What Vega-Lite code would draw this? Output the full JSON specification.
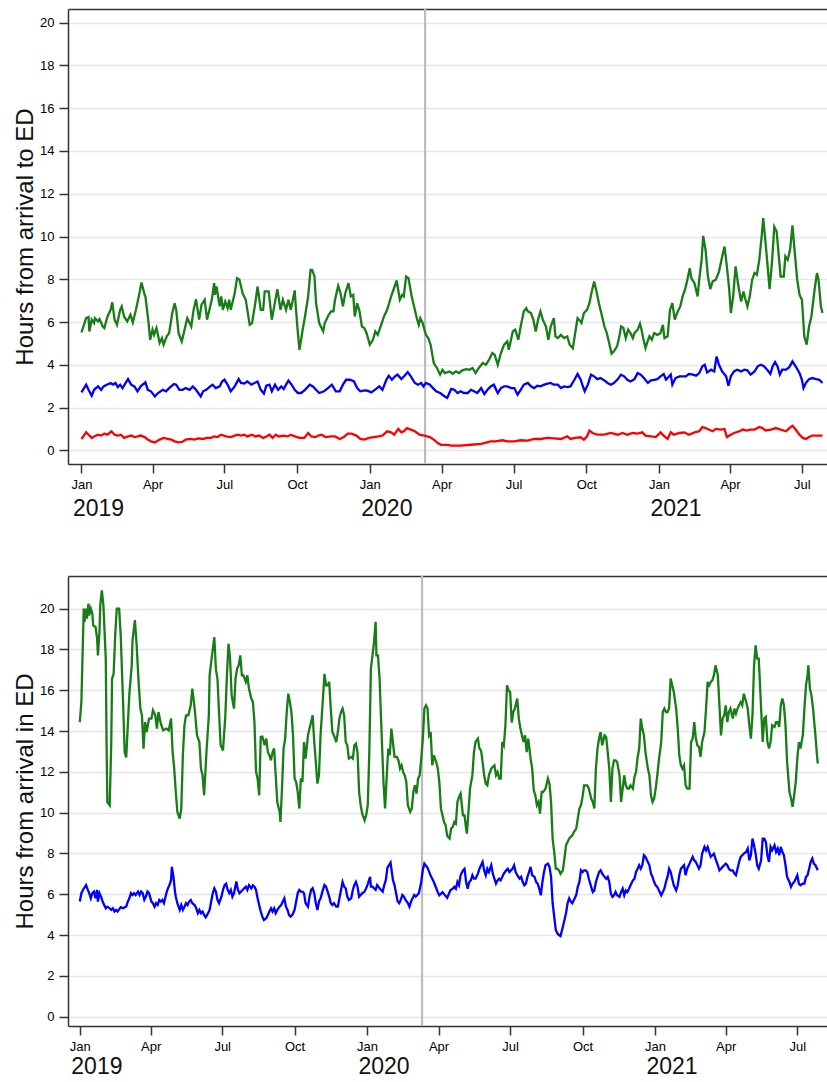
{
"$schema": "https://vega.github.io/schema/vega-lite/v6.json",
"background": "white",
"padding": {"left": 13, "top": 7, "right": 0, "bottom": 0},
"spacing": 54,
"config": {
  "view": {"stroke": null},
  "font": "Liberation Sans",
  "axis": {"labelFont": "Liberation Sans", "titleFont": "Liberation Sans", "labelColor": "#000000", "titleColor": "#111111", "domainColor": "#333333", "tickColor": "#333333", "domainWidth": 1.5, "tickWidth": 1.5, "labelFontSize": 13, "titleFontWeight": "normal"}
},
"datasets": {
"vline": [{"d": "2020-03-11"}],
"tg": [
{"d":"2019-01-01","v":5.51},{"d":"2019-01-07","v":6.18},{"d":"2019-01-10","v":6.23},{"d":"2019-01-11","v":5.56},{"d":"2019-01-14","v":6.11},{"d":"2019-01-17","v":5.95},{"d":"2019-01-18","v":6.18},{"d":"2019-01-22","v":6.03},{"d":"2019-01-24","v":6.14},{"d":"2019-01-28","v":5.79},{"d":"2019-01-30","v":5.72},{"d":"2019-02-03","v":6.26},{"d":"2019-02-07","v":6.57},{"d":"2019-02-09","v":6.92},{"d":"2019-02-12","v":6.11},{"d":"2019-02-15","v":5.87},{"d":"2019-02-19","v":6.57},{"d":"2019-02-21","v":6.73},{"d":"2019-02-24","v":6.26},{"d":"2019-02-28","v":6.03},{"d":"2019-03-04","v":6.34},{"d":"2019-03-07","v":5.98},{"d":"2019-03-11","v":6.57},{"d":"2019-03-15","v":7.27},{"d":"2019-03-18","v":7.85},{"d":"2019-03-22","v":7.27},{"d":"2019-03-23","v":7.2},{"d":"2019-03-27","v":5.95},{"d":"2019-03-29","v":5.17},{"d":"2019-04-01","v":5.64},{"d":"2019-04-03","v":5.4},{"d":"2019-04-06","v":5.72},{"d":"2019-04-10","v":5.02},{"d":"2019-04-13","v":5.25},{"d":"2019-04-15","v":4.94},{"d":"2019-04-19","v":5.33},{"d":"2019-04-22","v":5.48},{"d":"2019-04-26","v":6.42},{"d":"2019-04-29","v":6.88},{"d":"2019-05-01","v":6.57},{"d":"2019-05-04","v":5.48},{"d":"2019-05-08","v":5.09},{"d":"2019-05-11","v":5.56},{"d":"2019-05-15","v":6.18},{"d":"2019-05-18","v":5.95},{"d":"2019-05-20","v":5.79},{"d":"2019-05-23","v":6.57},{"d":"2019-05-26","v":7.07},{"d":"2019-05-30","v":6.11},{"d":"2019-06-02","v":6.81},{"d":"2019-06-06","v":7.04},{"d":"2019-06-09","v":6.11},{"d":"2019-06-12","v":6.57},{"d":"2019-06-15","v":7.04},{"d":"2019-06-18","v":7.82},{"d":"2019-06-19","v":7.27},{"d":"2019-06-21","v":7.66},{"d":"2019-06-25","v":6.73},{"d":"2019-06-27","v":7.2},{"d":"2019-06-29","v":6.57},{"d":"2019-07-02","v":6.96},{"d":"2019-07-05","v":6.65},{"d":"2019-07-07","v":7.04},{"d":"2019-07-09","v":6.57},{"d":"2019-07-14","v":7.35},{"d":"2019-07-17","v":8.05},{"d":"2019-07-20","v":7.98},{"d":"2019-07-24","v":7.35},{"d":"2019-07-28","v":7.04},{"d":"2019-08-02","v":5.87},{"d":"2019-08-05","v":5.95},{"d":"2019-08-09","v":6.88},{"d":"2019-08-12","v":7.66},{"d":"2019-08-16","v":6.57},{"d":"2019-08-19","v":6.57},{"d":"2019-08-21","v":7.43},{"d":"2019-08-26","v":7.43},{"d":"2019-08-30","v":6.11},{"d":"2019-09-02","v":6.73},{"d":"2019-09-06","v":7.54},{"d":"2019-09-10","v":6.57},{"d":"2019-09-13","v":7.04},{"d":"2019-09-17","v":6.57},{"d":"2019-09-20","v":7.04},{"d":"2019-09-23","v":6.57},{"d":"2019-09-28","v":7.48},{"d":"2019-09-29","v":6.88},{"d":"2019-10-02","v":5.48},{"d":"2019-10-04","v":4.7},{"d":"2019-10-08","v":5.64},{"d":"2019-10-11","v":6.26},{"d":"2019-10-15","v":7.2},{"d":"2019-10-18","v":8.44},{"d":"2019-10-20","v":8.44},{"d":"2019-10-23","v":8.13},{"d":"2019-10-25","v":6.88},{"d":"2019-10-29","v":5.95},{"d":"2019-11-03","v":5.56},{"d":"2019-11-05","v":5.95},{"d":"2019-11-10","v":6.34},{"d":"2019-11-13","v":6.5},{"d":"2019-11-16","v":6.5},{"d":"2019-11-18","v":7.04},{"d":"2019-11-22","v":7.69},{"d":"2019-11-25","v":7.35},{"d":"2019-11-28","v":6.73},{"d":"2019-12-01","v":7.35},{"d":"2019-12-05","v":7.82},{"d":"2019-12-08","v":7.2},{"d":"2019-12-11","v":7.27},{"d":"2019-12-13","v":6.26},{"d":"2019-12-16","v":6.88},{"d":"2019-12-19","v":6.5},{"d":"2019-12-22","v":5.79},{"d":"2019-12-25","v":5.72},{"d":"2019-12-28","v":5.48},{"d":"2020-01-01","v":4.94},{"d":"2020-01-05","v":5.17},{"d":"2020-01-08","v":5.56},{"d":"2020-01-11","v":5.4},{"d":"2020-01-14","v":5.72},{"d":"2020-01-19","v":6.26},{"d":"2020-01-23","v":6.57},{"d":"2020-01-28","v":7.2},{"d":"2020-01-31","v":7.51},{"d":"2020-02-04","v":7.94},{"d":"2020-02-08","v":7.04},{"d":"2020-02-11","v":7.27},{"d":"2020-02-13","v":7.2},{"d":"2020-02-16","v":8.13},{"d":"2020-02-19","v":8.05},{"d":"2020-02-23","v":7.2},{"d":"2020-03-01","v":6.11},{"d":"2020-03-03","v":5.87},{"d":"2020-03-05","v":6.18},{"d":"2020-03-08","v":5.95},{"d":"2020-03-12","v":5.4},{"d":"2020-03-15","v":5.25},{"d":"2020-03-18","v":4.94},{"d":"2020-03-22","v":4.08},{"d":"2020-03-26","v":3.85},{"d":"2020-03-30","v":3.54},{"d":"2020-04-02","v":3.77},{"d":"2020-04-05","v":3.61},
{"d":"2020-04-11","v":3.69},{"d":"2020-04-15","v":3.58},{"d":"2020-04-19","v":3.69},{"d":"2020-04-23","v":3.61},{"d":"2020-04-27","v":3.74},{"d":"2020-05-02","v":3.8},{"d":"2020-05-06","v":3.77},{"d":"2020-05-10","v":3.85},{"d":"2020-05-14","v":3.61},{"d":"2020-05-18","v":3.85},{"d":"2020-05-23","v":4.08},{"d":"2020-05-27","v":4.0},{"d":"2020-05-31","v":4.24},{"d":"2020-06-04","v":4.55},{"d":"2020-06-07","v":4.47},{"d":"2020-06-11","v":4.0},{"d":"2020-06-15","v":4.55},{"d":"2020-06-19","v":4.94},{"d":"2020-06-23","v":5.09},{"d":"2020-06-25","v":4.7},{"d":"2020-06-30","v":5.56},{"d":"2020-07-03","v":5.64},{"d":"2020-07-07","v":5.17},{"d":"2020-07-10","v":5.79},{"d":"2020-07-14","v":6.5},{"d":"2020-07-17","v":6.65},{"d":"2020-07-19","v":6.5},{"d":"2020-07-23","v":6.42},{"d":"2020-07-26","v":6.11},{"d":"2020-07-29","v":5.56},{"d":"2020-08-01","v":6.11},{"d":"2020-08-04","v":6.5},{"d":"2020-08-07","v":6.11},{"d":"2020-08-11","v":5.79},{"d":"2020-08-14","v":5.17},{"d":"2020-08-17","v":5.79},{"d":"2020-08-21","v":6.18},{"d":"2020-08-23","v":5.33},{"d":"2020-08-26","v":5.25},{"d":"2020-08-30","v":5.4},{"d":"2020-09-03","v":5.25},{"d":"2020-09-07","v":5.33},{"d":"2020-09-10","v":4.94},{"d":"2020-09-14","v":4.78},{"d":"2020-09-17","v":5.48},{"d":"2020-09-20","v":6.18},{"d":"2020-09-22","v":6.11},{"d":"2020-09-25","v":5.95},{"d":"2020-09-28","v":6.42},{"d":"2020-10-02","v":6.57},{"d":"2020-10-05","v":6.88},{"d":"2020-10-08","v":7.43},{"d":"2020-10-11","v":7.9},{"d":"2020-10-14","v":7.43},{"d":"2020-10-17","v":6.88},{"d":"2020-10-20","v":6.42},{"d":"2020-10-24","v":5.79},{"d":"2020-10-27","v":5.48},{"d":"2020-10-30","v":5.02},{"d":"2020-11-02","v":4.52},{"d":"2020-11-05","v":4.63},{"d":"2020-11-09","v":4.86},{"d":"2020-11-12","v":5.33},{"d":"2020-11-14","v":5.79},{"d":"2020-11-17","v":5.72},{"d":"2020-11-20","v":5.25},{"d":"2020-11-23","v":5.64},{"d":"2020-11-26","v":5.48},{"d":"2020-11-29","v":5.25},{"d":"2020-12-01","v":5.48},{"d":"2020-12-05","v":5.64},{"d":"2020-12-08","v":5.92},{"d":"2020-12-10","v":5.64},{"d":"2020-12-12","v":5.25},{"d":"2020-12-15","v":4.78},{"d":"2020-12-17","v":5.02},{"d":"2020-12-20","v":5.33},{"d":"2020-12-23","v":5.17},{"d":"2020-12-26","v":5.48},{"d":"2020-12-30","v":5.4},{"d":"2021-01-03","v":5.48},{"d":"2021-01-06","v":5.87},{"d":"2021-01-08","v":5.25},{"d":"2021-01-12","v":5.33},{"d":"2021-01-15","v":6.57},{"d":"2021-01-18","v":6.88},{"d":"2021-01-21","v":6.11},{"d":"2021-01-24","v":6.42},{"d":"2021-01-28","v":6.73},{"d":"2021-01-31","v":7.2},{"d":"2021-02-03","v":7.51},{"d":"2021-02-06","v":7.98},{"d":"2021-02-09","v":8.52},{"d":"2021-02-11","v":8.05},{"d":"2021-02-15","v":7.82},{"d":"2021-02-19","v":7.2},{"d":"2021-02-21","v":7.98},{"d":"2021-02-24","v":8.91},{"d":"2021-02-26","v":10.03},{"d":"2021-03-01","v":9.38},{"d":"2021-03-04","v":8.13},{"d":"2021-03-07","v":7.54},{"d":"2021-03-10","v":7.9},{"d":"2021-03-14","v":7.98},{"d":"2021-03-18","v":8.36},{"d":"2021-03-23","v":9.22},{"d":"2021-03-25","v":9.53},{"d":"2021-03-28","v":8.6},{"d":"2021-03-31","v":7.51},{"d":"2021-04-02","v":6.42},{"d":"2021-04-05","v":7.2},{"d":"2021-04-08","v":8.6},{"d":"2021-04-11","v":7.82},{"d":"2021-04-15","v":6.96},{"d":"2021-04-18","v":7.43},{"d":"2021-04-20","v":7.12},{"d":"2021-04-23","v":6.73},{"d":"2021-04-26","v":7.2},{"d":"2021-04-29","v":7.98},{"d":"2021-05-02","v":8.29},{"d":"2021-05-05","v":8.21},{"d":"2021-05-08","v":8.91},{"d":"2021-05-11","v":10.0},{"d":"2021-05-13","v":10.86},{"d":"2021-05-16","v":9.69},{"d":"2021-05-19","v":8.44},{"d":"2021-05-21","v":7.54},{"d":"2021-05-24","v":8.75},{"d":"2021-05-27","v":10.45},{"d":"2021-05-30","v":10.23},{"d":"2021-06-01","v":9.38},{"d":"2021-06-04","v":8.13},{"d":"2021-06-08","v":8.13},{"d":"2021-06-10","v":9.07},{"d":"2021-06-13","v":8.91},{"d":"2021-06-16","v":9.38},{"d":"2021-06-19","v":10.52},{"d":"2021-06-22","v":9.22},{"d":"2021-06-25","v":7.98},{"d":"2021-06-28","v":7.27},{"d":"2021-07-01","v":7.04},{"d":"2021-07-04","v":5.33},{"d":"2021-07-07","v":4.94},{"d":"2021-07-10","v":5.79},{"d":"2021-07-13","v":6.26},{"d":"2021-07-17","v":7.51},{"d":"2021-07-20","v":8.29},{"d":"2021-07-22","v":7.98},{"d":"2021-07-25","v":6.73},{"d":"2021-07-27","v":6.42}
],
"tb": [
{"d":"2019-01-01","v":2.71},{"d":"2019-01-07","v":3.07},{"d":"2019-01-10","v":2.83},{"d":"2019-01-14","v":2.55},{"d":"2019-01-17","v":2.83},{"d":"2019-01-22","v":2.99},{"d":"2019-01-26","v":2.83},{"d":"2019-01-29","v":2.99},{"d":"2019-02-02","v":3.07},{"d":"2019-02-07","v":3.15},{"d":"2019-02-10","v":3.07},{"d":"2019-02-13","v":3.15},{"d":"2019-02-16","v":2.96},{"d":"2019-02-19","v":3.07},{"d":"2019-02-22","v":2.91},{"d":"2019-02-26","v":3.15},{"d":"2019-03-01","v":3.33},{"d":"2019-03-05","v":3.07},{"d":"2019-03-09","v":2.99},{"d":"2019-03-13","v":2.76},{"d":"2019-03-17","v":2.99},{"d":"2019-03-23","v":3.18},{"d":"2019-03-26","v":2.83},{"d":"2019-03-30","v":2.76},{"d":"2019-04-04","v":2.52},{"d":"2019-04-08","v":2.68},{"d":"2019-04-14","v":2.83},{"d":"2019-04-18","v":2.76},{"d":"2019-04-22","v":2.91},{"d":"2019-04-28","v":3.1},{"d":"2019-05-01","v":3.07},{"d":"2019-05-05","v":2.83},{"d":"2019-05-09","v":2.83},{"d":"2019-05-13","v":2.91},{"d":"2019-05-18","v":2.83},{"d":"2019-05-22","v":2.99},{"d":"2019-05-26","v":2.83},{"d":"2019-06-01","v":2.52},{"d":"2019-06-04","v":2.76},{"d":"2019-06-08","v":2.83},{"d":"2019-06-13","v":2.99},{"d":"2019-06-16","v":3.07},{"d":"2019-06-20","v":2.91},{"d":"2019-06-25","v":2.99},{"d":"2019-06-28","v":3.22},{"d":"2019-07-01","v":3.3},{"d":"2019-07-05","v":3.07},{"d":"2019-07-09","v":2.76},{"d":"2019-07-14","v":2.99},{"d":"2019-07-19","v":3.33},{"d":"2019-07-22","v":3.15},{"d":"2019-07-26","v":3.12},{"d":"2019-07-30","v":3.22},{"d":"2019-08-04","v":3.07},{"d":"2019-08-08","v":3.15},{"d":"2019-08-12","v":3.22},{"d":"2019-08-16","v":2.83},{"d":"2019-08-20","v":2.65},{"d":"2019-08-23","v":3.02},{"d":"2019-08-27","v":3.07},{"d":"2019-08-30","v":2.76},{"d":"2019-09-03","v":3.07},{"d":"2019-09-07","v":2.83},{"d":"2019-09-11","v":2.99},{"d":"2019-09-14","v":2.87},{"d":"2019-09-17","v":3.07},{"d":"2019-09-20","v":3.26},{"d":"2019-09-24","v":3.07},{"d":"2019-09-28","v":2.83},{"d":"2019-10-02","v":2.68},{"d":"2019-10-06","v":2.68},{"d":"2019-10-11","v":2.83},{"d":"2019-10-17","v":3.07},{"d":"2019-10-21","v":2.99},{"d":"2019-10-25","v":2.83},{"d":"2019-10-29","v":2.68},{"d":"2019-11-04","v":2.76},{"d":"2019-11-09","v":2.91},{"d":"2019-11-14","v":3.07},{"d":"2019-11-19","v":2.76},{"d":"2019-11-24","v":2.76},{"d":"2019-11-28","v":3.07},{"d":"2019-12-02","v":3.3},{"d":"2019-12-07","v":3.3},{"d":"2019-12-12","v":3.22},{"d":"2019-12-16","v":2.91},{"d":"2019-12-20","v":2.76},{"d":"2019-12-25","v":2.8},{"d":"2019-12-29","v":2.79},{"d":"2020-01-03","v":2.71},{"d":"2020-01-09","v":2.87},{"d":"2020-01-13","v":2.99},{"d":"2020-01-17","v":2.83},{"d":"2020-01-22","v":3.3},{"d":"2020-01-25","v":3.49},{"d":"2020-01-29","v":3.3},{"d":"2020-02-02","v":3.46},{"d":"2020-02-05","v":3.54},{"d":"2020-02-10","v":3.33},{"d":"2020-02-14","v":3.49},{"d":"2020-02-18","v":3.66},{"d":"2020-02-22","v":3.46},{"d":"2020-02-27","v":3.15},{"d":"2020-03-02","v":3.07},{"d":"2020-03-06","v":3.15},{"d":"2020-03-09","v":2.99},{"d":"2020-03-12","v":3.15},{"d":"2020-03-17","v":3.07},{"d":"2020-03-21","v":2.91},{"d":"2020-03-25","v":2.76},{"d":"2020-03-30","v":2.68},{"d":"2020-04-05","v":2.52},{"d":"2020-04-08","v":2.45},
{"d":"2020-04-13","v":2.87},{"d":"2020-04-17","v":2.83},{"d":"2020-04-21","v":2.68},{"d":"2020-04-25","v":2.76},{"d":"2020-04-29","v":2.68},{"d":"2020-05-04","v":2.68},{"d":"2020-05-08","v":2.83},{"d":"2020-05-12","v":2.76},{"d":"2020-05-16","v":2.68},{"d":"2020-05-21","v":2.91},{"d":"2020-05-25","v":2.63},{"d":"2020-05-29","v":2.83},{"d":"2020-06-02","v":2.99},{"d":"2020-06-06","v":3.07},{"d":"2020-06-11","v":2.68},{"d":"2020-06-15","v":2.91},{"d":"2020-06-19","v":2.99},{"d":"2020-06-23","v":2.99},{"d":"2020-06-28","v":2.91},{"d":"2020-07-02","v":2.91},{"d":"2020-07-06","v":2.6},{"d":"2020-07-10","v":2.83},{"d":"2020-07-14","v":3.07},{"d":"2020-07-19","v":3.15},{"d":"2020-07-23","v":2.99},{"d":"2020-07-27","v":2.91},{"d":"2020-07-31","v":3.02},{"d":"2020-08-04","v":2.99},{"d":"2020-08-09","v":3.07},{"d":"2020-08-13","v":3.12},{"d":"2020-08-17","v":3.15},{"d":"2020-08-21","v":3.07},{"d":"2020-08-26","v":3.07},{"d":"2020-08-30","v":2.91},{"d":"2020-09-03","v":2.99},{"d":"2020-09-07","v":2.96},{"d":"2020-09-11","v":2.99},{"d":"2020-09-16","v":3.3},{"d":"2020-09-20","v":3.57},{"d":"2020-09-24","v":3.3},{"d":"2020-09-26","v":3.07},{"d":"2020-09-29","v":2.76},{"d":"2020-10-03","v":3.07},{"d":"2020-10-07","v":3.54},{"d":"2020-10-11","v":3.46},{"d":"2020-10-15","v":3.33},{"d":"2020-10-19","v":3.38},{"d":"2020-10-24","v":3.27},{"d":"2020-10-28","v":3.15},{"d":"2020-11-01","v":3.07},{"d":"2020-11-05","v":3.15},{"d":"2020-11-10","v":3.33},{"d":"2020-11-14","v":3.54},{"d":"2020-11-18","v":3.46},{"d":"2020-11-22","v":3.3},{"d":"2020-11-26","v":3.22},{"d":"2020-12-01","v":3.33},{"d":"2020-12-05","v":3.61},{"d":"2020-12-09","v":3.54},{"d":"2020-12-13","v":3.38},{"d":"2020-12-18","v":3.15},{"d":"2020-12-22","v":3.27},{"d":"2020-12-26","v":3.3},{"d":"2020-12-30","v":3.33},{"d":"2021-01-03","v":3.46},{"d":"2021-01-07","v":3.57},{"d":"2021-01-10","v":3.3},{"d":"2021-01-14","v":3.46},{"d":"2021-01-16","v":3.54},{"d":"2021-01-18","v":3.07},{"d":"2021-01-22","v":3.38},{"d":"2021-01-27","v":3.46},{"d":"2021-01-31","v":3.46},{"d":"2021-02-04","v":3.46},{"d":"2021-02-08","v":3.57},{"d":"2021-02-13","v":3.54},{"d":"2021-02-17","v":3.49},{"d":"2021-02-21","v":3.61},{"d":"2021-02-25","v":3.93},{"d":"2021-02-28","v":4.0},{"d":"2021-03-03","v":3.64},{"d":"2021-03-08","v":3.77},{"d":"2021-03-12","v":3.69},{"d":"2021-03-15","v":4.39},{"d":"2021-03-18","v":4.0},{"d":"2021-03-22","v":3.69},{"d":"2021-03-27","v":3.46},{"d":"2021-03-30","v":3.02},{"d":"2021-04-02","v":3.46},{"d":"2021-04-06","v":3.69},{"d":"2021-04-10","v":3.77},{"d":"2021-04-15","v":3.69},{"d":"2021-04-19","v":3.77},{"d":"2021-04-23","v":3.74},{"d":"2021-04-27","v":3.54},{"d":"2021-05-02","v":3.69},{"d":"2021-05-06","v":3.93},{"d":"2021-05-10","v":4.0},{"d":"2021-05-14","v":3.93},{"d":"2021-05-18","v":3.77},{"d":"2021-05-22","v":3.58},{"d":"2021-05-25","v":3.93},{"d":"2021-05-28","v":4.13},{"d":"2021-05-31","v":3.93},{"d":"2021-06-03","v":3.54},{"d":"2021-06-06","v":3.77},{"d":"2021-06-11","v":3.77},{"d":"2021-06-15","v":3.89},{"d":"2021-06-19","v":4.16},{"d":"2021-06-23","v":3.93},{"d":"2021-06-28","v":3.61},{"d":"2021-07-01","v":3.3},{"d":"2021-07-03","v":2.91},{"d":"2021-07-06","v":3.15},{"d":"2021-07-10","v":3.33},{"d":"2021-07-14","v":3.38},{"d":"2021-07-19","v":3.33},{"d":"2021-07-23","v":3.3},{"d":"2021-07-27","v":3.15}
],
"tr": [
{"d":"2019-01-01","v":0.53},{"d":"2019-01-07","v":0.84},{"d":"2019-01-10","v":0.73},{"d":"2019-01-14","v":0.58},{"d":"2019-01-17","v":0.65},{"d":"2019-01-22","v":0.73},{"d":"2019-01-26","v":0.69},{"d":"2019-01-30","v":0.78},{"d":"2019-02-03","v":0.73},{"d":"2019-02-08","v":0.89},{"d":"2019-02-12","v":0.73},{"d":"2019-02-16","v":0.69},{"d":"2019-02-20","v":0.73},{"d":"2019-02-24","v":0.58},{"d":"2019-03-01","v":0.65},{"d":"2019-03-05","v":0.69},{"d":"2019-03-09","v":0.62},{"d":"2019-03-13","v":0.65},{"d":"2019-03-17","v":0.69},{"d":"2019-03-22","v":0.62},{"d":"2019-03-26","v":0.5},{"d":"2019-03-30","v":0.42},{"d":"2019-04-04","v":0.37},{"d":"2019-04-10","v":0.5},{"d":"2019-04-15","v":0.58},{"d":"2019-04-20","v":0.53},{"d":"2019-04-25","v":0.5},{"d":"2019-04-29","v":0.42},{"d":"2019-05-04","v":0.37},{"d":"2019-05-09","v":0.4},{"d":"2019-05-13","v":0.5},{"d":"2019-05-19","v":0.53},{"d":"2019-05-24","v":0.5},{"d":"2019-05-29","v":0.56},{"d":"2019-06-04","v":0.53},{"d":"2019-06-09","v":0.58},{"d":"2019-06-14","v":0.58},{"d":"2019-06-18","v":0.65},{"d":"2019-06-22","v":0.62},{"d":"2019-06-27","v":0.73},{"d":"2019-07-03","v":0.65},{"d":"2019-07-09","v":0.62},{"d":"2019-07-14","v":0.69},{"d":"2019-07-18","v":0.73},{"d":"2019-07-22","v":0.69},{"d":"2019-07-26","v":0.73},{"d":"2019-07-30","v":0.65},{"d":"2019-08-05","v":0.73},{"d":"2019-08-09","v":0.65},{"d":"2019-08-14","v":0.69},{"d":"2019-08-19","v":0.58},{"d":"2019-08-23","v":0.65},{"d":"2019-08-27","v":0.73},{"d":"2019-08-31","v":0.58},{"d":"2019-09-04","v":0.73},{"d":"2019-09-08","v":0.65},{"d":"2019-09-13","v":0.69},{"d":"2019-09-19","v":0.65},{"d":"2019-09-23","v":0.73},{"d":"2019-09-28","v":0.65},{"d":"2019-10-04","v":0.58},{"d":"2019-10-10","v":0.58},{"d":"2019-10-15","v":0.81},{"d":"2019-10-19","v":0.65},{"d":"2019-10-24","v":0.62},{"d":"2019-10-28","v":0.69},{"d":"2019-11-01","v":0.73},{"d":"2019-11-06","v":0.62},{"d":"2019-11-13","v":0.65},{"d":"2019-11-18","v":0.65},{"d":"2019-11-24","v":0.53},{"d":"2019-11-29","v":0.62},{"d":"2019-12-04","v":0.78},{"d":"2019-12-09","v":0.78},{"d":"2019-12-15","v":0.69},{"d":"2019-12-20","v":0.53},{"d":"2019-12-25","v":0.5},{"d":"2019-12-31","v":0.58},{"d":"2020-01-06","v":0.62},{"d":"2020-01-12","v":0.65},{"d":"2020-01-17","v":0.69},{"d":"2020-01-23","v":0.89},{"d":"2020-01-28","v":0.84},{"d":"2020-02-01","v":0.73},{"d":"2020-02-06","v":1.0},{"d":"2020-02-10","v":0.84},{"d":"2020-02-13","v":0.89},{"d":"2020-02-17","v":1.04},{"d":"2020-02-22","v":0.97},{"d":"2020-02-27","v":0.89},{"d":"2020-03-04","v":0.73},{"d":"2020-03-10","v":0.69},{"d":"2020-03-17","v":0.62},{"d":"2020-03-22","v":0.5},{"d":"2020-03-27","v":0.34},{"d":"2020-03-31","v":0.26},{"d":"2020-04-09","v":0.25},{"d":"2020-04-13","v":0.22},{"d":"2020-04-25","v":0.22},{"d":"2020-05-08","v":0.26},{"d":"2020-05-21","v":0.3},{"d":"2020-06-02","v":0.42},{"d":"2020-06-08","v":0.42},{"d":"2020-06-17","v":0.47},{"d":"2020-06-23","v":0.42},{"d":"2020-07-02","v":0.42},{"d":"2020-07-10","v":0.47},{"d":"2020-07-19","v":0.45},{"d":"2020-07-27","v":0.53},{"d":"2020-08-04","v":0.53},{"d":"2020-08-13","v":0.58},{"d":"2020-08-21","v":0.56},{"d":"2020-08-30","v":0.53},{"d":"2020-09-07","v":0.65},{"d":"2020-09-11","v":0.53},{"d":"2020-09-17","v":0.58},{"d":"2020-09-24","v":0.61},{"d":"2020-09-28","v":0.5},{"d":"2020-10-02","v":0.65},{"d":"2020-10-05","v":0.92},{"d":"2020-10-09","v":0.81},{"d":"2020-10-15","v":0.73},{"d":"2020-10-24","v":0.73},{"d":"2020-11-01","v":0.81},{"d":"2020-11-10","v":0.73},{"d":"2020-11-16","v":0.81},{"d":"2020-11-22","v":0.73},{"d":"2020-11-29","v":0.81},{"d":"2020-12-05","v":0.78},{"d":"2020-12-11","v":0.84},{"d":"2020-12-15","v":0.69},{"d":"2020-12-22","v":0.65},{"d":"2020-12-28","v":0.62},{"d":"2021-01-03","v":0.84},{"d":"2021-01-08","v":0.65},{"d":"2021-01-12","v":0.53},{"d":"2021-01-16","v":0.84},{"d":"2021-01-20","v":0.73},{"d":"2021-01-27","v":0.81},{"d":"2021-02-02","v":0.84},{"d":"2021-02-08","v":0.73},{"d":"2021-02-15","v":0.84},{"d":"2021-02-21","v":0.89},{"d":"2021-02-25","v":1.09},{"d":"2021-03-01","v":1.04},{"d":"2021-03-05","v":0.97},{"d":"2021-03-10","v":0.89},{"d":"2021-03-14","v":1.0},{"d":"2021-03-20","v":0.97},{"d":"2021-03-25","v":1.0},{"d":"2021-03-28","v":0.62},{"d":"2021-04-02","v":0.73},{"d":"2021-04-06","v":0.81},{"d":"2021-04-13","v":0.89},{"d":"2021-04-17","v":0.97},{"d":"2021-04-22","v":0.92},{"d":"2021-04-27","v":0.97},{"d":"2021-05-02","v":0.97},{"d":"2021-05-08","v":1.09},{"d":"2021-05-12","v":1.04},{"d":"2021-05-16","v":0.93},{"d":"2021-05-23","v":0.97},{"d":"2021-05-29","v":1.04},{"d":"2021-06-04","v":0.97},{"d":"2021-06-11","v":0.89},{"d":"2021-06-15","v":1.04},{"d":"2021-06-19","v":1.15},{"d":"2021-06-23","v":0.97},{"d":"2021-06-28","v":0.73},{"d":"2021-07-02","v":0.58},{"d":"2021-07-06","v":0.53},{"d":"2021-07-10","v":0.62},{"d":"2021-07-14","v":0.69},{"d":"2021-07-19","v":0.69},{"d":"2021-07-27","v":0.69}
],
"bg": [
{"d":"2019-01-01","v":14.44},{"d":"2019-01-03","v":15.42},{"d":"2019-01-06","v":20.0},{"d":"2019-01-07","v":19.35},{"d":"2019-01-09","v":20.0},{"d":"2019-01-10","v":19.51},{"d":"2019-01-12","v":20.25},{"d":"2019-01-13","v":19.67},{"d":"2019-01-15","v":20.0},{"d":"2019-01-17","v":19.75},{"d":"2019-01-18","v":19.18},{"d":"2019-01-21","v":19.1},{"d":"2019-01-23","v":18.53},{"d":"2019-01-24","v":17.71},{"d":"2019-01-26","v":18.86},{"d":"2019-01-27","v":20.16},{"d":"2019-01-29","v":20.9},{"d":"2019-01-31","v":20.16},{"d":"2019-02-03","v":17.55},{"d":"2019-02-04","v":13.46},{"d":"2019-02-05","v":10.52},{"d":"2019-02-08","v":10.36},{"d":"2019-02-10","v":13.46},{"d":"2019-02-11","v":16.57},{"d":"2019-02-13","v":16.8},{"d":"2019-02-15","v":18.7},{"d":"2019-02-17","v":20.0},{"d":"2019-02-20","v":20.0},{"d":"2019-02-22","v":18.7},{"d":"2019-02-25","v":15.42},{"d":"2019-02-27","v":12.97},{"d":"2019-03-01","v":12.71},{"d":"2019-03-03","v":14.25},{"d":"2019-03-05","v":15.83},{"d":"2019-03-08","v":17.22},{"d":"2019-03-09","v":18.44},{"d":"2019-03-12","v":19.44},{"d":"2019-03-14","v":18.37},{"d":"2019-03-17","v":16.24},{"d":"2019-03-19","v":15.1},{"d":"2019-03-21","v":14.77},{"d":"2019-03-23","v":13.13},{"d":"2019-03-25","v":14.44},{"d":"2019-03-27","v":13.95},{"d":"2019-03-30","v":14.61},{"d":"2019-04-02","v":14.61},{"d":"2019-04-04","v":15.02},{"d":"2019-04-07","v":14.77},{"d":"2019-04-09","v":14.12},{"d":"2019-04-11","v":14.93},{"d":"2019-04-14","v":14.36},{"d":"2019-04-17","v":14.03},{"d":"2019-04-21","v":14.12},{"d":"2019-04-24","v":14.03},{"d":"2019-04-27","v":14.61},{"d":"2019-04-29","v":12.97},{"d":"2019-05-01","v":12.16},{"d":"2019-05-03","v":11.01},{"d":"2019-05-05","v":10.03},{"d":"2019-05-08","v":9.71},{"d":"2019-05-10","v":10.2},{"d":"2019-05-12","v":12.81},{"d":"2019-05-14","v":14.28},{"d":"2019-05-16","v":14.77},{"d":"2019-05-19","v":14.77},{"d":"2019-05-22","v":15.26},{"d":"2019-05-24","v":16.08},{"d":"2019-05-27","v":15.1},{"d":"2019-05-30","v":13.79},{"d":"2019-06-02","v":13.46},{"d":"2019-06-04","v":12.16},{"d":"2019-06-06","v":11.83},{"d":"2019-06-08","v":10.85},{"d":"2019-06-11","v":12.97},{"d":"2019-06-14","v":14.77},{"d":"2019-06-15","v":16.73},{"d":"2019-06-18","v":17.71},{"d":"2019-06-21","v":18.6},{"d":"2019-06-23","v":17.03},{"d":"2019-06-25","v":16.54},{"d":"2019-06-27","v":14.9},{"d":"2019-06-29","v":13.3},{"d":"2019-07-02","v":13.05},{"d":"2019-07-05","v":14.77},{"d":"2019-07-07","v":16.73},{"d":"2019-07-09","v":18.28},{"d":"2019-07-11","v":17.55},{"d":"2019-07-13","v":15.75},{"d":"2019-07-16","v":15.1},{"d":"2019-07-18","v":16.6},{"d":"2019-07-20","v":17.06},{"d":"2019-07-22","v":17.22},{"d":"2019-07-24","v":17.71},{"d":"2019-07-26","v":16.73},{"d":"2019-07-28","v":16.73},{"d":"2019-07-31","v":16.41},{"d":"2019-08-02","v":16.73},{"d":"2019-08-04","v":16.08},{"d":"2019-08-07","v":15.59},{"d":"2019-08-09","v":15.42},{"d":"2019-08-11","v":14.44},{"d":"2019-08-13","v":12.0},{"d":"2019-08-15","v":11.67},{"d":"2019-08-17","v":10.85},{"d":"2019-08-19","v":13.71},{"d":"2019-08-21","v":13.73},{"d":"2019-08-24","v":13.3},{"d":"2019-08-26","v":13.63},{"d":"2019-08-28","v":12.97},{"d":"2019-08-30","v":12.81},{"d":"2019-09-01","v":12.56},{"d":"2019-09-03","v":12.97},{"d":"2019-09-05","v":13.14},{"d":"2019-09-07","v":11.83},{"d":"2019-09-09","v":10.52},{"d":"2019-09-12","v":10.03},{"d":"2019-09-13","v":9.54},{"d":"2019-09-15","v":11.18},{"d":"2019-09-17","v":13.14},{"d":"2019-09-19","v":13.63},{"d":"2019-09-21","v":14.93},{"d":"2019-09-23","v":15.83},{"d":"2019-09-25","v":15.42},{"d":"2019-09-27","v":14.93},{"d":"2019-09-29","v":13.79},{"d":"2019-10-01","v":11.67},{"d":"2019-10-03","v":11.5},{"d":"2019-10-05","v":11.01},{"d":"2019-10-07","v":10.2},{"d":"2019-10-09","v":11.67},{"d":"2019-10-11","v":11.5},{"d":"2019-10-13","v":13.46},{"d":"2019-10-15","v":12.65},{"d":"2019-10-18","v":13.79},{"d":"2019-10-20","v":14.12},{"d":"2019-10-22","v":14.44},{"d":"2019-10-24","v":14.77},{"d":"2019-10-26","v":13.46},{"d":"2019-10-28","v":12.48},{"d":"2019-10-30","v":11.42},{"d":"2019-11-01","v":11.83},{"d":"2019-11-03","v":13.79},{"d":"2019-11-06","v":15.59},{"d":"2019-11-08","v":16.8},{"d":"2019-11-10","v":16.24},{"d":"2019-11-12","v":16.24},{"d":"2019-11-14","v":16.41},{"d":"2019-11-16","v":15.1},{"d":"2019-11-18","v":13.95},{"d":"2019-11-20","v":13.79},{"d":"2019-11-23","v":13.46},{"d":"2019-11-25","v":13.95},{"d":"2019-11-27","v":14.61},{"d":"2019-11-29","v":14.93},{"d":"2019-12-01","v":15.1},{"d":"2019-12-03","v":14.77},{"d":"2019-12-05","v":13.46},{"d":"2019-12-07","v":13.3},{"d":"2019-12-09","v":12.65},{"d":"2019-12-12","v":12.73},{"d":"2019-12-14","v":12.65},{"d":"2019-12-16","v":13.3},{"d":"2019-12-18","v":13.38},{"d":"2019-12-20","v":12.97},{"d":"2019-12-22","v":11.01},{"d":"2019-12-24","v":10.36},{"d":"2019-12-26","v":9.95},{"d":"2019-12-29","v":9.62},{"d":"2019-12-31","v":9.87},{"d":"2020-01-02","v":10.36},{"d":"2020-01-04","v":12.97},{"d":"2020-01-06","v":17.06},{"d":"2020-01-08","v":17.71},{"d":"2020-01-10","v":18.37},{"d":"2020-01-12","v":19.35},{"d":"2020-01-13","v":17.71},{"d":"2020-01-15","v":17.71},{"d":"2020-01-17","v":16.6},{"d":"2020-01-20","v":13.46},{"d":"2020-01-22","v":11.5},{"d":"2020-01-24","v":10.2},{"d":"2020-01-26","v":11.67},{"d":"2020-01-28","v":13.14},{"d":"2020-01-30","v":12.81},{"d":"2020-02-01","v":14.12},{"d":"2020-02-03","v":13.46},{"d":"2020-02-05","v":12.73},{"d":"2020-02-08","v":12.73},{"d":"2020-02-10","v":12.56},{"d":"2020-02-12","v":12.16},{"d":"2020-02-14","v":12.32},{"d":"2020-02-16","v":11.99},{"d":"2020-02-18","v":11.83},{"d":"2020-02-20","v":11.5},{"d":"2020-02-22","v":10.36},{"d":"2020-02-25","v":10.03},{"d":"2020-02-27","v":10.2},{"d":"2020-02-29","v":11.01},{"d":"2020-03-02","v":11.34},{"d":"2020-03-04","v":10.93},{"d":"2020-03-06","v":11.67},{"d":"2020-03-08","v":11.83},{"d":"2020-03-10","v":12.65},{"d":"2020-03-12","v":13.63},{"d":"2020-03-14","v":15.1},{"d":"2020-03-16","v":15.26},{"d":"2020-03-18","v":15.1},{"d":"2020-03-20","v":13.79},{"d":"2020-03-22","v":13.95},{"d":"2020-03-24","v":12.32},{"d":"2020-03-26","v":12.81},{"d":"2020-03-29","v":12.48},{"d":"2020-03-31","v":12.16},{"d":"2020-04-02","v":11.5},{"d":"2020-04-04","v":10.2},{"d":"2020-04-06","v":9.87},{"d":"2020-04-08","v":9.54},
{"d":"2020-04-10","v":9.38},{"d":"2020-04-12","v":8.86},{"d":"2020-04-15","v":8.73},{"d":"2020-04-17","v":9.22},{"d":"2020-04-19","v":9.3},{"d":"2020-04-21","v":9.54},{"d":"2020-04-23","v":9.46},{"d":"2020-04-25","v":10.52},{"d":"2020-04-27","v":10.77},{"d":"2020-04-29","v":10.93},{"d":"2020-05-02","v":9.87},{"d":"2020-05-04","v":9.87},{"d":"2020-05-06","v":9.22},{"d":"2020-05-07","v":8.97},{"d":"2020-05-09","v":10.03},{"d":"2020-05-11","v":11.18},{"d":"2020-05-14","v":11.83},{"d":"2020-05-16","v":12.97},{"d":"2020-05-18","v":13.46},{"d":"2020-05-21","v":13.63},{"d":"2020-05-23","v":13.14},{"d":"2020-05-25","v":13.05},{"d":"2020-05-27","v":12.48},{"d":"2020-05-29","v":11.83},{"d":"2020-05-31","v":11.42},{"d":"2020-06-02","v":11.34},{"d":"2020-06-04","v":11.83},{"d":"2020-06-07","v":12.16},{"d":"2020-06-09","v":12.25},{"d":"2020-06-11","v":12.32},{"d":"2020-06-13","v":11.83},{"d":"2020-06-15","v":11.99},{"d":"2020-06-17","v":11.67},{"d":"2020-06-19","v":11.67},{"d":"2020-06-21","v":13.46},{"d":"2020-06-23","v":13.3},{"d":"2020-06-25","v":14.28},{"d":"2020-06-27","v":16.24},{"d":"2020-06-29","v":16.0},{"d":"2020-07-01","v":15.9},{"d":"2020-07-03","v":14.41},{"d":"2020-07-05","v":14.93},{"d":"2020-07-07","v":15.1},{"d":"2020-07-10","v":15.59},{"d":"2020-07-12","v":14.61},{"d":"2020-07-14","v":14.12},{"d":"2020-07-16","v":13.79},{"d":"2020-07-18","v":13.46},{"d":"2020-07-20","v":13.79},{"d":"2020-07-22","v":12.97},{"d":"2020-07-24","v":13.63},{"d":"2020-07-27","v":12.65},{"d":"2020-07-29","v":12.16},{"d":"2020-07-31","v":11.09},{"d":"2020-08-02","v":10.85},{"d":"2020-08-04","v":10.36},{"d":"2020-08-06","v":10.52},{"d":"2020-08-08","v":9.95},{"d":"2020-08-10","v":11.01},{"d":"2020-08-12","v":11.01},{"d":"2020-08-15","v":11.18},{"d":"2020-08-17","v":11.5},{"d":"2020-08-18","v":11.67},{"d":"2020-08-20","v":11.42},{"d":"2020-08-22","v":10.52},{"d":"2020-08-24","v":8.73},{"d":"2020-08-26","v":8.07},{"d":"2020-08-28","v":7.25},{"d":"2020-08-30","v":7.25},{"d":"2020-09-01","v":7.17},{"d":"2020-09-03","v":7.0},{"d":"2020-09-06","v":7.17},{"d":"2020-09-08","v":7.75},{"d":"2020-09-10","v":8.4},{"d":"2020-09-12","v":8.56},{"d":"2020-09-14","v":8.73},{"d":"2020-09-16","v":8.81},{"d":"2020-09-18","v":8.89},{"d":"2020-09-20","v":9.05},{"d":"2020-09-23","v":9.22},{"d":"2020-09-25","v":9.71},{"d":"2020-09-27","v":10.2},{"d":"2020-09-29","v":10.36},{"d":"2020-10-01","v":10.77},{"d":"2020-10-03","v":11.34},{"d":"2020-10-05","v":11.34},{"d":"2020-10-07","v":11.34},{"d":"2020-10-09","v":11.18},{"d":"2020-10-12","v":10.69},{"d":"2020-10-14","v":10.52},{"d":"2020-10-16","v":10.2},{"d":"2020-10-18","v":12.16},{"d":"2020-10-20","v":13.14},{"d":"2020-10-22","v":13.63},{"d":"2020-10-24","v":13.95},{"d":"2020-10-26","v":13.3},{"d":"2020-10-29","v":13.79},{"d":"2020-10-31","v":13.71},{"d":"2020-11-02","v":12.97},{"d":"2020-11-04","v":12.16},{"d":"2020-11-06","v":10.52},{"d":"2020-11-08","v":12.16},{"d":"2020-11-10","v":12.56},{"d":"2020-11-12","v":12.56},{"d":"2020-11-14","v":12.48},{"d":"2020-11-17","v":11.83},{"d":"2020-11-19","v":10.52},{"d":"2020-11-21","v":11.18},{"d":"2020-11-23","v":11.83},{"d":"2020-11-25","v":11.34},{"d":"2020-11-27","v":11.18},{"d":"2020-11-29","v":11.18},{"d":"2020-12-01","v":11.34},{"d":"2020-12-04","v":11.18},{"d":"2020-12-06","v":11.75},{"d":"2020-12-08","v":11.99},{"d":"2020-12-10","v":12.71},{"d":"2020-12-12","v":13.14},{"d":"2020-12-14","v":14.61},{"d":"2020-12-16","v":14.12},{"d":"2020-12-18","v":13.79},{"d":"2020-12-20","v":12.97},{"d":"2020-12-23","v":12.16},{"d":"2020-12-25","v":11.83},{"d":"2020-12-27","v":10.85},{"d":"2020-12-29","v":10.52},{"d":"2020-12-31","v":10.69},{"d":"2021-01-02","v":11.18},{"d":"2021-01-04","v":11.83},{"d":"2021-01-06","v":12.56},{"d":"2021-01-09","v":13.46},{"d":"2021-01-11","v":14.93},{"d":"2021-01-13","v":15.1},{"d":"2021-01-15","v":14.93},{"d":"2021-01-17","v":14.93},{"d":"2021-01-19","v":15.1},{"d":"2021-01-21","v":16.57},{"d":"2021-01-23","v":16.24},{"d":"2021-01-25","v":15.92},{"d":"2021-01-28","v":15.1},{"d":"2021-01-30","v":14.12},{"d":"2021-02-01","v":12.81},{"d":"2021-02-03","v":12.32},{"d":"2021-02-05","v":12.16},{"d":"2021-02-07","v":12.32},{"d":"2021-02-09","v":11.34},{"d":"2021-02-11","v":11.18},{"d":"2021-02-14","v":11.18},{"d":"2021-02-16","v":13.46},{"d":"2021-02-18","v":13.63},{"d":"2021-02-20","v":14.44},{"d":"2021-02-22","v":13.63},{"d":"2021-02-24","v":13.3},{"d":"2021-02-26","v":13.22},{"d":"2021-02-28","v":12.73},{"d":"2021-03-02","v":13.46},{"d":"2021-03-05","v":13.95},{"d":"2021-03-07","v":15.1},{"d":"2021-03-09","v":16.41},{"d":"2021-03-11","v":16.24},{"d":"2021-03-13","v":16.41},{"d":"2021-03-15","v":16.49},{"d":"2021-03-17","v":16.73},{"d":"2021-03-19","v":17.22},{"d":"2021-03-22","v":16.73},{"d":"2021-03-24","v":15.26},{"d":"2021-03-26","v":13.79},{"d":"2021-03-28","v":14.61},{"d":"2021-03-30","v":14.77},{"d":"2021-04-01","v":15.26},{"d":"2021-04-03","v":14.44},{"d":"2021-04-05","v":14.93},{"d":"2021-04-07","v":15.1},{"d":"2021-04-10","v":14.61},{"d":"2021-04-12","v":15.1},{"d":"2021-04-14","v":14.85},{"d":"2021-04-16","v":15.1},{"d":"2021-04-18","v":15.26},{"d":"2021-04-20","v":15.42},{"d":"2021-04-22","v":15.26},{"d":"2021-04-24","v":15.83},{"d":"2021-04-27","v":15.42},{"d":"2021-04-29","v":15.1},{"d":"2021-05-01","v":14.28},{"d":"2021-05-03","v":13.63},{"d":"2021-05-05","v":14.77},{"d":"2021-05-07","v":17.22},{"d":"2021-05-09","v":18.2},{"d":"2021-05-11","v":17.55},{"d":"2021-05-13","v":17.55},{"d":"2021-05-16","v":15.1},{"d":"2021-05-18","v":13.46},{"d":"2021-05-20","v":14.61},{"d":"2021-05-22","v":14.69},{"d":"2021-05-24","v":13.46},{"d":"2021-05-26","v":13.14},{"d":"2021-05-28","v":13.46},{"d":"2021-05-30","v":14.28},{"d":"2021-06-02","v":14.2},{"d":"2021-06-04","v":14.44},{"d":"2021-06-06","v":14.44},{"d":"2021-06-08","v":14.2},{"d":"2021-06-10","v":15.26},{"d":"2021-06-12","v":15.59},{"d":"2021-06-14","v":15.26},{"d":"2021-06-16","v":14.28},{"d":"2021-06-18","v":12.48},{"d":"2021-06-21","v":11.01},{"d":"2021-06-23","v":10.69},{"d":"2021-06-25","v":10.28},{"d":"2021-06-27","v":10.85},{"d":"2021-06-29","v":11.5},{"d":"2021-07-01","v":12.65},{"d":"2021-07-03","v":13.46},{"d":"2021-07-05","v":13.14},{"d":"2021-07-08","v":13.79},{"d":"2021-07-10","v":15.1},{"d":"2021-07-12","v":16.24},{"d":"2021-07-14","v":16.73},{"d":"2021-07-15","v":17.22},{"d":"2021-07-17","v":16.08},{"d":"2021-07-19","v":15.75},{"d":"2021-07-21","v":15.1},{"d":"2021-07-24","v":13.79},{"d":"2021-07-26","v":12.81},{"d":"2021-07-27","v":12.4}
],
"bb": [
{"d":"2019-01-01","v":5.64},{"d":"2019-01-03","v":6.05},{"d":"2019-01-05","v":6.21},{"d":"2019-01-09","v":6.45},{"d":"2019-01-11","v":6.24},{"d":"2019-01-13","v":6.05},{"d":"2019-01-15","v":5.8},{"d":"2019-01-17","v":6.05},{"d":"2019-01-19","v":6.13},{"d":"2019-01-21","v":5.8},{"d":"2019-01-23","v":6.21},{"d":"2019-01-24","v":5.64},{"d":"2019-01-26","v":6.05},{"d":"2019-01-28","v":5.88},{"d":"2019-01-30","v":5.64},{"d":"2019-02-01","v":5.47},{"d":"2019-02-03","v":5.31},{"d":"2019-02-05","v":5.39},{"d":"2019-02-08","v":5.31},{"d":"2019-02-10","v":5.23},{"d":"2019-02-12","v":5.31},{"d":"2019-02-14","v":5.15},{"d":"2019-02-16","v":5.23},{"d":"2019-02-18","v":5.15},{"d":"2019-02-20","v":5.26},{"d":"2019-02-22","v":5.36},{"d":"2019-02-25","v":5.31},{"d":"2019-02-27","v":5.36},{"d":"2019-03-01","v":5.39},{"d":"2019-03-03","v":5.64},{"d":"2019-03-05","v":5.8},{"d":"2019-03-07","v":6.05},{"d":"2019-03-09","v":5.96},{"d":"2019-03-11","v":6.05},{"d":"2019-03-13","v":5.96},{"d":"2019-03-16","v":6.13},{"d":"2019-03-18","v":5.96},{"d":"2019-03-20","v":6.13},{"d":"2019-03-22","v":6.05},{"d":"2019-03-24","v":5.72},{"d":"2019-03-26","v":5.88},{"d":"2019-03-28","v":6.13},{"d":"2019-03-30","v":6.05},{"d":"2019-04-02","v":5.64},{"d":"2019-04-04","v":5.56},{"d":"2019-04-06","v":5.39},{"d":"2019-04-08","v":5.56},{"d":"2019-04-10","v":5.47},{"d":"2019-04-12","v":5.72},{"d":"2019-04-14","v":5.64},{"d":"2019-04-16","v":5.72},{"d":"2019-04-18","v":5.56},{"d":"2019-04-21","v":6.05},{"d":"2019-04-23","v":6.29},{"d":"2019-04-25","v":6.45},{"d":"2019-04-27","v":6.7},{"d":"2019-04-28","v":7.34},{"d":"2019-04-30","v":6.86},{"d":"2019-05-02","v":6.13},{"d":"2019-05-03","v":5.88},{"d":"2019-05-05","v":5.56},{"d":"2019-05-08","v":5.23},{"d":"2019-05-10","v":5.47},{"d":"2019-05-12","v":5.23},{"d":"2019-05-14","v":5.39},{"d":"2019-05-16","v":5.56},{"d":"2019-05-18","v":5.47},{"d":"2019-05-20","v":5.64},{"d":"2019-05-22","v":5.72},{"d":"2019-05-24","v":5.56},{"d":"2019-05-27","v":5.47},{"d":"2019-05-29","v":5.31},{"d":"2019-05-31","v":5.07},{"d":"2019-06-02","v":5.23},{"d":"2019-06-04","v":5.07},{"d":"2019-06-06","v":5.15},{"d":"2019-06-08","v":4.98},{"d":"2019-06-10","v":4.87},{"d":"2019-06-13","v":5.07},{"d":"2019-06-15","v":5.23},{"d":"2019-06-17","v":5.64},{"d":"2019-06-19","v":6.05},{"d":"2019-06-21","v":6.29},{"d":"2019-06-23","v":6.13},{"d":"2019-06-25","v":5.72},{"d":"2019-06-27","v":5.56},{"d":"2019-06-30","v":5.88},{"d":"2019-07-02","v":6.21},{"d":"2019-07-04","v":6.45},{"d":"2019-07-06","v":6.52},{"d":"2019-07-08","v":6.21},{"d":"2019-07-10","v":6.05},{"d":"2019-07-12","v":6.21},{"d":"2019-07-14","v":5.88},{"d":"2019-07-16","v":6.05},{"d":"2019-07-19","v":6.62},{"d":"2019-07-21","v":6.21},{"d":"2019-07-23","v":6.05},{"d":"2019-07-25","v":6.13},{"d":"2019-07-27","v":6.21},{"d":"2019-07-29","v":6.29},{"d":"2019-07-31","v":6.37},{"d":"2019-08-02","v":6.21},{"d":"2019-08-04","v":6.44},{"d":"2019-08-07","v":6.29},{"d":"2019-08-09","v":6.44},{"d":"2019-08-11","v":6.37},{"d":"2019-08-13","v":6.21},{"d":"2019-08-15","v":5.8},{"d":"2019-08-17","v":5.47},{"d":"2019-08-19","v":5.15},{"d":"2019-08-21","v":4.9},{"d":"2019-08-23","v":4.74},{"d":"2019-08-26","v":4.82},{"d":"2019-08-28","v":4.98},{"d":"2019-08-30","v":5.15},{"d":"2019-09-01","v":5.31},{"d":"2019-09-03","v":5.15},{"d":"2019-09-05","v":5.31},{"d":"2019-09-07","v":5.07},{"d":"2019-09-09","v":5.23},{"d":"2019-09-12","v":5.39},{"d":"2019-09-14","v":5.47},{"d":"2019-09-16","v":5.64},{"d":"2019-09-18","v":5.8},{"d":"2019-09-20","v":5.39},{"d":"2019-09-22","v":5.23},{"d":"2019-09-24","v":4.98},{"d":"2019-09-26","v":4.9},{"d":"2019-09-28","v":4.98},{"d":"2019-10-01","v":5.23},{"d":"2019-10-03","v":5.64},{"d":"2019-10-05","v":6.05},{"d":"2019-10-07","v":6.21},{"d":"2019-10-09","v":6.13},{"d":"2019-10-11","v":6.13},{"d":"2019-10-13","v":6.05},{"d":"2019-10-15","v":5.56},{"d":"2019-10-18","v":5.39},{"d":"2019-10-20","v":5.88},{"d":"2019-10-22","v":6.21},{"d":"2019-10-24","v":6.29},{"d":"2019-10-26","v":6.05},{"d":"2019-10-28","v":5.56},{"d":"2019-10-30","v":5.23},{"d":"2019-11-01","v":5.64},{"d":"2019-11-03","v":5.8},{"d":"2019-11-06","v":6.21},{"d":"2019-11-08","v":6.45},{"d":"2019-11-10","v":6.37},{"d":"2019-11-12","v":6.13},{"d":"2019-11-14","v":5.88},{"d":"2019-11-16","v":5.56},{"d":"2019-11-18","v":5.47},{"d":"2019-11-20","v":5.56},{"d":"2019-11-23","v":5.39},{"d":"2019-11-25","v":5.39},{"d":"2019-11-27","v":5.8},{"d":"2019-11-29","v":6.21},{"d":"2019-12-01","v":6.6},{"d":"2019-12-03","v":6.37},{"d":"2019-12-05","v":6.29},{"d":"2019-12-07","v":5.88},{"d":"2019-12-09","v":5.72},{"d":"2019-12-12","v":5.8},{"d":"2019-12-14","v":6.21},{"d":"2019-12-16","v":6.45},{"d":"2019-12-18","v":6.6},{"d":"2019-12-20","v":6.37},{"d":"2019-12-22","v":5.88},{"d":"2019-12-24","v":5.96},{"d":"2019-12-26","v":6.05},{"d":"2019-12-29","v":6.13},{"d":"2019-12-31","v":6.29},{"d":"2020-01-02","v":6.5},{"d":"2020-01-05","v":6.85},{"d":"2020-01-06","v":6.37},{"d":"2020-01-08","v":6.37},{"d":"2020-01-10","v":6.29},{"d":"2020-01-12","v":6.21},{"d":"2020-01-14","v":6.45},{"d":"2020-01-17","v":6.29},{"d":"2020-01-19","v":6.21},{"d":"2020-01-21","v":6.13},{"d":"2020-01-23","v":6.45},{"d":"2020-01-25","v":6.7},{"d":"2020-01-27","v":7.3},{"d":"2020-01-31","v":7.55},{"d":"2020-02-03","v":6.7},{"d":"2020-02-05","v":6.45},{"d":"2020-02-07","v":6.05},{"d":"2020-02-09","v":5.64},{"d":"2020-02-11","v":5.56},{"d":"2020-02-13","v":5.72},{"d":"2020-02-15","v":5.96},{"d":"2020-02-17","v":5.88},{"d":"2020-02-19","v":5.72},{"d":"2020-02-22","v":5.56},{"d":"2020-02-24","v":5.39},{"d":"2020-02-26","v":5.64},{"d":"2020-02-28","v":5.8},{"d":"2020-03-01","v":5.96},{"d":"2020-03-03","v":5.88},{"d":"2020-03-05","v":5.96},{"d":"2020-03-07","v":6.05},{"d":"2020-03-10","v":6.6},{"d":"2020-03-12","v":7.2},{"d":"2020-03-14","v":7.5},{"d":"2020-03-18","v":7.3},{"d":"2020-03-22","v":6.9},{"d":"2020-03-26","v":6.6},{"d":"2020-03-31","v":6.1},{"d":"2020-04-02","v":5.95},{"d":"2020-04-06","v":6.1},
{"d":"2020-04-12","v":5.82},{"d":"2020-04-16","v":6.19},{"d":"2020-04-19","v":6.27},{"d":"2020-04-21","v":6.36},{"d":"2020-04-23","v":6.27},{"d":"2020-04-25","v":6.6},{"d":"2020-04-27","v":6.44},{"d":"2020-04-29","v":6.93},{"d":"2020-05-02","v":7.17},{"d":"2020-05-04","v":7.25},{"d":"2020-05-06","v":6.6},{"d":"2020-05-08","v":6.27},{"d":"2020-05-10","v":6.6},{"d":"2020-05-12","v":6.68},{"d":"2020-05-14","v":6.93},{"d":"2020-05-16","v":6.76},{"d":"2020-05-18","v":6.76},{"d":"2020-05-21","v":7.01},{"d":"2020-05-23","v":7.25},{"d":"2020-05-25","v":7.42},{"d":"2020-05-27","v":7.58},{"d":"2020-05-29","v":7.17},{"d":"2020-05-31","v":6.93},{"d":"2020-06-02","v":7.25},{"d":"2020-06-04","v":7.09},{"d":"2020-06-07","v":7.42},{"d":"2020-06-09","v":7.01},{"d":"2020-06-11","v":6.76},{"d":"2020-06-13","v":6.52},{"d":"2020-06-15","v":6.68},{"d":"2020-06-17","v":6.76},{"d":"2020-06-19","v":6.68},{"d":"2020-06-21","v":6.85},{"d":"2020-06-23","v":7.01},{"d":"2020-06-26","v":7.17},{"d":"2020-06-28","v":7.25},{"d":"2020-06-30","v":7.09},{"d":"2020-07-02","v":7.17},{"d":"2020-07-04","v":7.25},{"d":"2020-07-06","v":7.42},{"d":"2020-07-08","v":7.09},{"d":"2020-07-10","v":6.93},{"d":"2020-07-13","v":6.76},{"d":"2020-07-15","v":6.85},{"d":"2020-07-17","v":6.6},{"d":"2020-07-19","v":6.44},{"d":"2020-07-21","v":6.52},{"d":"2020-07-23","v":6.85},{"d":"2020-07-25","v":7.09},{"d":"2020-07-27","v":7.34},{"d":"2020-07-29","v":6.93},{"d":"2020-08-01","v":6.85},{"d":"2020-08-03","v":6.6},{"d":"2020-08-05","v":6.52},{"d":"2020-08-07","v":6.27},{"d":"2020-08-09","v":5.95},{"d":"2020-08-11","v":6.6},{"d":"2020-08-13","v":7.09},{"d":"2020-08-15","v":7.42},{"d":"2020-08-18","v":7.5},{"d":"2020-08-20","v":7.34},{"d":"2020-08-22","v":6.85},{"d":"2020-08-24","v":5.56},{"d":"2020-08-26","v":4.9},{"d":"2020-08-28","v":4.25},{"d":"2020-08-30","v":4.08},{"d":"2020-09-01","v":4.0},{"d":"2020-09-03","v":3.95},{"d":"2020-09-06","v":4.41},{"d":"2020-09-08","v":4.74},{"d":"2020-09-10","v":5.07},{"d":"2020-09-12","v":5.56},{"d":"2020-09-14","v":5.8},{"d":"2020-09-16","v":5.64},{"d":"2020-09-18","v":5.56},{"d":"2020-09-20","v":5.72},{"d":"2020-09-23","v":5.96},{"d":"2020-09-25","v":6.37},{"d":"2020-09-27","v":6.6},{"d":"2020-09-29","v":7.17},{"d":"2020-10-01","v":7.09},{"d":"2020-10-03","v":7.17},{"d":"2020-10-05","v":7.17},{"d":"2020-10-07","v":7.09},{"d":"2020-10-09","v":6.76},{"d":"2020-10-12","v":6.36},{"d":"2020-10-14","v":6.11},{"d":"2020-10-16","v":6.19},{"d":"2020-10-18","v":6.6},{"d":"2020-10-20","v":6.85},{"d":"2020-10-22","v":7.09},{"d":"2020-10-24","v":7.17},{"d":"2020-10-26","v":7.01},{"d":"2020-10-29","v":6.85},{"d":"2020-10-31","v":6.76},{"d":"2020-11-02","v":6.85},{"d":"2020-11-04","v":6.6},{"d":"2020-11-06","v":6.03},{"d":"2020-11-08","v":5.87},{"d":"2020-11-10","v":5.95},{"d":"2020-11-12","v":6.11},{"d":"2020-11-14","v":5.95},{"d":"2020-11-17","v":5.87},{"d":"2020-11-19","v":6.11},{"d":"2020-11-21","v":6.27},{"d":"2020-11-23","v":5.95},{"d":"2020-11-25","v":6.19},{"d":"2020-11-27","v":6.11},{"d":"2020-11-29","v":6.27},{"d":"2020-12-01","v":6.44},{"d":"2020-12-04","v":6.68},{"d":"2020-12-06","v":6.76},{"d":"2020-12-08","v":7.09},{"d":"2020-12-10","v":7.25},{"d":"2020-12-12","v":7.42},{"d":"2020-12-14","v":7.25},{"d":"2020-12-16","v":7.42},{"d":"2020-12-18","v":7.91},{"d":"2020-12-20","v":7.83},{"d":"2020-12-23","v":7.58},{"d":"2020-12-25","v":7.42},{"d":"2020-12-27","v":7.01},{"d":"2020-12-29","v":6.85},{"d":"2020-12-31","v":6.6},{"d":"2021-01-02","v":6.44},{"d":"2021-01-04","v":6.36},{"d":"2021-01-06","v":6.19},{"d":"2021-01-09","v":5.95},{"d":"2021-01-11","v":6.11},{"d":"2021-01-13","v":6.27},{"d":"2021-01-15","v":6.6},{"d":"2021-01-17","v":6.85},{"d":"2021-01-19","v":7.25},{"d":"2021-01-21","v":7.09},{"d":"2021-01-23","v":6.76},{"d":"2021-01-25","v":6.44},{"d":"2021-01-28","v":6.19},{"d":"2021-01-30","v":6.44},{"d":"2021-02-01","v":6.93},{"d":"2021-02-03","v":7.25},{"d":"2021-02-05","v":7.34},{"d":"2021-02-07","v":7.42},{"d":"2021-02-09","v":6.93},{"d":"2021-02-11","v":7.25},{"d":"2021-02-14","v":7.5},{"d":"2021-02-16","v":7.66},{"d":"2021-02-18","v":7.83},{"d":"2021-02-20","v":7.66},{"d":"2021-02-22","v":7.58},{"d":"2021-02-24","v":7.42},{"d":"2021-02-26","v":7.25},{"d":"2021-02-28","v":7.42},{"d":"2021-03-02","v":7.99},{"d":"2021-03-05","v":8.32},{"d":"2021-03-07","v":8.15},{"d":"2021-03-09","v":8.32},{"d":"2021-03-11","v":8.07},{"d":"2021-03-13","v":7.83},{"d":"2021-03-15","v":7.91},{"d":"2021-03-17","v":7.99},{"d":"2021-03-19","v":7.75},{"d":"2021-03-22","v":7.42},{"d":"2021-03-24","v":7.17},{"d":"2021-03-26","v":7.25},{"d":"2021-03-28","v":7.34},{"d":"2021-03-30","v":7.42},{"d":"2021-04-01","v":7.5},{"d":"2021-04-03","v":7.42},{"d":"2021-04-05","v":7.25},{"d":"2021-04-07","v":7.17},{"d":"2021-04-10","v":7.17},{"d":"2021-04-12","v":7.01},{"d":"2021-04-14","v":6.93},{"d":"2021-04-16","v":7.25},{"d":"2021-04-18","v":7.58},{"d":"2021-04-20","v":7.83},{"d":"2021-04-22","v":7.91},{"d":"2021-04-24","v":7.99},{"d":"2021-04-27","v":8.07},{"d":"2021-04-29","v":8.24},{"d":"2021-05-01","v":7.66},{"d":"2021-05-03","v":7.91},{"d":"2021-05-05","v":8.73},{"d":"2021-05-07","v":8.4},{"d":"2021-05-09","v":7.99},{"d":"2021-05-11","v":7.42},{"d":"2021-05-13","v":7.25},{"d":"2021-05-16","v":7.66},{"d":"2021-05-18","v":8.73},{"d":"2021-05-20","v":8.73},{"d":"2021-05-22","v":8.56},{"d":"2021-05-24","v":7.91},{"d":"2021-05-26","v":7.58},{"d":"2021-05-28","v":8.32},{"d":"2021-05-30","v":8.15},{"d":"2021-06-02","v":8.4},{"d":"2021-06-04","v":8.07},{"d":"2021-06-06","v":8.24},{"d":"2021-06-08","v":7.91},{"d":"2021-06-10","v":8.32},{"d":"2021-06-12","v":8.07},{"d":"2021-06-14","v":7.91},{"d":"2021-06-16","v":7.42},{"d":"2021-06-18","v":6.85},{"d":"2021-06-21","v":6.6},{"d":"2021-06-23","v":6.36},{"d":"2021-06-25","v":6.52},{"d":"2021-06-27","v":6.6},{"d":"2021-06-29","v":6.76},{"d":"2021-07-01","v":6.93},{"d":"2021-07-03","v":6.52},{"d":"2021-07-05","v":6.44},{"d":"2021-07-08","v":6.52},{"d":"2021-07-10","v":6.52},{"d":"2021-07-12","v":6.85},{"d":"2021-07-14","v":6.93},{"d":"2021-07-16","v":7.25},{"d":"2021-07-18","v":7.58},{"d":"2021-07-20","v":7.75},{"d":"2021-07-22","v":7.5},{"d":"2021-07-24","v":7.42},{"d":"2021-07-27","v":7.17}
]
},
"vconcat": [
{
  "width": 760, "height": 455,
  "resolve": {"axis": {"x": "independent"}},
  "layer": [
    {"data": {"name": "vline"}, "mark": {"type": "rule", "color": "#bdbdbd", "strokeWidth": 2.2},
     "encoding": {"x": {"field": "d", "type": "temporal",
        "scale": {"type": "utc", "domain": [{"year": 2018, "month": 12, "date": 15, "utc": true}, {"year": 2021, "month": 8, "date": 3, "utc": true}]},
        "axis": {"orient": "bottom", "title": null, "format": "%b", "grid": false, "tickSize": 9, "labelPadding": 5, "labelFlush": false, "labelOverlap": false,
          "values": [{"year":2019,"month":1,"date":1,"utc":true},{"year":2019,"month":4,"date":1,"utc":true},{"year":2019,"month":7,"date":1,"utc":true},{"year":2019,"month":10,"date":1,"utc":true},{"year":2020,"month":1,"date":1,"utc":true},{"year":2020,"month":4,"date":1,"utc":true},{"year":2020,"month":7,"date":1,"utc":true},{"year":2020,"month":10,"date":1,"utc":true},{"year":2021,"month":1,"date":1,"utc":true},{"year":2021,"month":4,"date":1,"utc":true},{"year":2021,"month":7,"date":1,"utc":true}]}}}},
    {"data": {"name": "tg"}, "mark": {"type": "line", "color": "#177d17", "strokeWidth": 2.3},
     "encoding": {
       "x": {"field": "d", "type": "temporal",
        "scale": {"type": "utc", "domain": [{"year": 2018, "month": 12, "date": 15, "utc": true}, {"year": 2021, "month": 8, "date": 3, "utc": true}]},
        "axis": {"orient": "bottom", "title": null, "format": "%Y", "grid": false, "ticks": false, "domain": false, "labelFontSize": 23, "labelColor": "#111111", "labelAlign": "left", "labelOffset": -9, "labelPadding": 33, "labelFlush": false, "labelOverlap": false,
          "values": [{"year":2019,"month":1,"date":1,"utc":true},{"year":2020,"month":1,"date":1,"utc":true},{"year":2021,"month":1,"date":1,"utc":true}]}},
       "y": {"field": "v", "type": "quantitative", "scale": {"domain": [-0.64, 20.64], "nice": false, "zero": false},
        "axis": {"title": "Hours from arrival to ED", "titleFontSize": 24, "titlePadding": 2, "values": [0,2,4,6,8,10,12,14,16,18,20], "grid": true, "gridColor": "#e6e6e6", "gridWidth": 1.6, "tickSize": 9, "labelPadding": 5}}}},
    {"data": {"name": "tb"}, "mark": {"type": "line", "color": "#0000ff", "strokeWidth": 2.3},
     "encoding": {
       "x": {"field": "d", "type": "temporal",
        "scale": {"type": "utc", "domain": [{"year": 2018, "month": 12, "date": 15, "utc": true}, {"year": 2021, "month": 8, "date": 3, "utc": true}]},
        "axis": {"orient": "top", "title": null, "labels": false, "ticks": false, "grid": false, "domain": true}},
       "y": {"field": "v", "type": "quantitative", "scale": {"domain": [-0.64, 20.64], "nice": false, "zero": false}}}},
    {"data": {"name": "tr"}, "mark": {"type": "line", "color": "#ff0000", "strokeWidth": 2.3},
     "encoding": {
       "x": {"field": "d", "type": "temporal",
        "scale": {"type": "utc", "domain": [{"year": 2018, "month": 12, "date": 15, "utc": true}, {"year": 2021, "month": 8, "date": 3, "utc": true}]}, "axis": null},
       "y": {"field": "v", "type": "quantitative", "scale": {"domain": [-0.64, 20.64], "nice": false, "zero": false}}}}
  ]
},
{
  "width": 760, "height": 450,
  "resolve": {"axis": {"x": "independent"}},
  "layer": [
    {"data": {"name": "vline"}, "mark": {"type": "rule", "color": "#bdbdbd", "strokeWidth": 2.2},
     "encoding": {"x": {"field": "d", "type": "temporal",
        "scale": {"type": "utc", "domain": [{"year": 2018, "month": 12, "date": 17, "utc": true}, {"year": 2021, "month": 8, "date": 9, "utc": true}]},
        "axis": {"orient": "bottom", "title": null, "format": "%b", "grid": false, "tickSize": 9, "labelPadding": 5, "labelFlush": false, "labelOverlap": false,
          "values": [{"year":2019,"month":1,"date":1,"utc":true},{"year":2019,"month":4,"date":1,"utc":true},{"year":2019,"month":7,"date":1,"utc":true},{"year":2019,"month":10,"date":1,"utc":true},{"year":2020,"month":1,"date":1,"utc":true},{"year":2020,"month":4,"date":1,"utc":true},{"year":2020,"month":7,"date":1,"utc":true},{"year":2020,"month":10,"date":1,"utc":true},{"year":2021,"month":1,"date":1,"utc":true},{"year":2021,"month":4,"date":1,"utc":true},{"year":2021,"month":7,"date":1,"utc":true}]}}}},
    {"data": {"name": "bg"}, "mark": {"type": "line", "color": "#177d17", "strokeWidth": 2.3},
     "encoding": {
       "x": {"field": "d", "type": "temporal",
        "scale": {"type": "utc", "domain": [{"year": 2018, "month": 12, "date": 17, "utc": true}, {"year": 2021, "month": 8, "date": 9, "utc": true}]},
        "axis": {"orient": "bottom", "title": null, "format": "%Y", "grid": false, "ticks": false, "domain": false, "labelFontSize": 23, "labelColor": "#111111", "labelAlign": "left", "labelOffset": -9, "labelPadding": 29, "labelFlush": false, "labelOverlap": false,
          "values": [{"year":2019,"month":1,"date":1,"utc":true},{"year":2020,"month":1,"date":1,"utc":true},{"year":2021,"month":1,"date":1,"utc":true}]}},
       "y": {"field": "v", "type": "quantitative", "scale": {"domain": [-0.46, 21.6], "nice": false, "zero": false},
        "axis": {"title": "Hours from arrival in ED", "titleFontSize": 24, "titlePadding": 2, "values": [0,2,4,6,8,10,12,14,16,18,20], "grid": true, "gridColor": "#e6e6e6", "gridWidth": 1.6, "tickSize": 9, "labelPadding": 5}}}},
    {"data": {"name": "bb"}, "mark": {"type": "line", "color": "#0000ff", "strokeWidth": 2.3},
     "encoding": {
       "x": {"field": "d", "type": "temporal",
        "scale": {"type": "utc", "domain": [{"year": 2018, "month": 12, "date": 17, "utc": true}, {"year": 2021, "month": 8, "date": 9, "utc": true}]},
        "axis": {"orient": "top", "title": null, "labels": false, "ticks": false, "grid": false, "domain": true}},
       "y": {"field": "v", "type": "quantitative", "scale": {"domain": [-0.46, 21.6], "nice": false, "zero": false}}}}
  ]
}
]
}
